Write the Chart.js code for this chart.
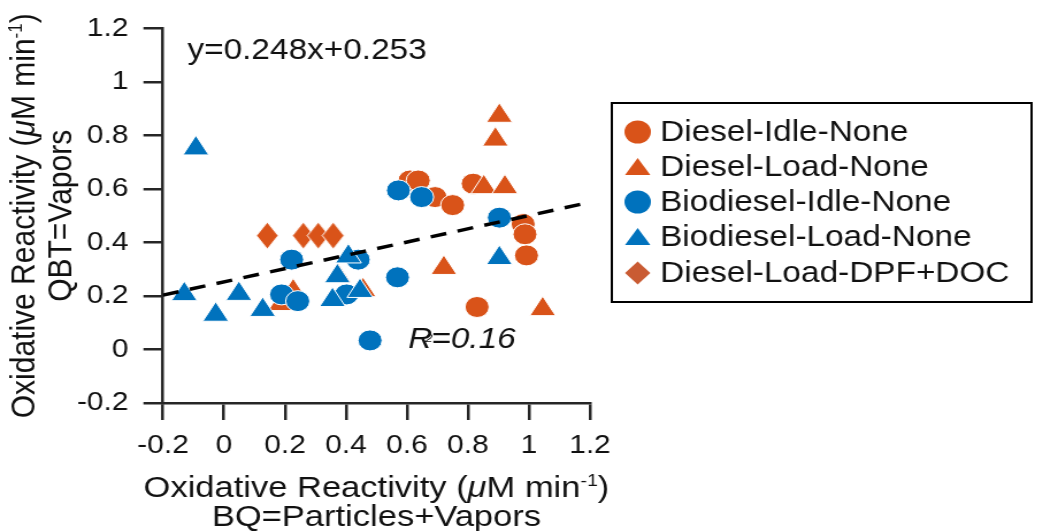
<!DOCTYPE html>
<html>
<head>
<meta charset="utf-8">
<script src="https://cdn.jsdelivr.net/npm/chart.js@4.4.1/dist/chart.umd.min.js"></script>
<style>
  html, body { margin: 0; padding: 0; background: #fff; overflow: hidden; }
  /* figure is drawn narrow and widened, like the exported original */
  #chart { display: block; transform: scaleX(1.15); transform-origin: 0 0; }
</style>
</head>
<body>
<canvas id="chart" width="908" height="531"></canvas>
<script>
// series
const seriesNames = ['Diesel-Idle-None', 'Diesel-Load-None', 'Biodiesel-Idle-None', 'Biodiesel-Load-None', 'Diesel-Load-DPF+DOC'];

const dieselIdleX = [0.610, 0.637, 0.692, 0.750, 0.817, 0.981, 0.987, 0.992, 0.830];
const dieselIdleY = [0.632, 0.632, 0.570, 0.540, 0.620, 0.469, 0.431, 0.352, 0.159];

const dieselLoadX = [0.187, 0.227, 0.374, 0.456, 0.721, 0.852, 0.921, 0.890, 0.903, 1.045];
const dieselLoadY = [0.170, 0.218, 0.276, 0.222, 0.305, 0.607, 0.607, 0.785, 0.874, 0.151];

const bioIdleX = [0.189, 0.242, 0.222, 0.402, 0.440, 0.572, 0.648, 0.569, 0.903, 0.479];
const bioIdleY = [0.206, 0.181, 0.336, 0.206, 0.336, 0.595, 0.570, 0.270, 0.493, 0.034];

const bioLoadX = [-0.092, -0.130, -0.027, 0.049, 0.127, 0.408, 0.372, 0.356, 0.446, 0.903];
const bioLoadY = [0.752, 0.207, 0.130, 0.208, 0.148, 0.348, 0.274, 0.185, 0.219, 0.342];

const dpfX = [0.142, 0.260, 0.309, 0.358];
const dpfY = [0.426, 0.426, 0.426, 0.426];

// linear fit
const fitSlope = 0.248;
const fitIntercept = 0.253;
const fitX = [-0.2, 1.2];
const fitR2 = '0.16';

// axes
const tickValues = [-0.2, 0, 0.2, 0.4, 0.6, 0.8, 1, 1.2];
const tickLabels = ['-0.2', '0', '0.2', '0.4', '0.6', '0.8', '1', '1.2'];

const ORANGE = '#D95319';
const BLUE = '#0072BD';
const AXIS = '#262626';
const TEXT = '#111';
const FONT = "'Liberation Sans', Arial, Helvetica, sans-serif";

function pts(xs, ys) {
  return xs.map((x, i) => ({ x: x, y: ys[i] }));
}

// diamond marker, a bit taller than wide
function diamondMarker(w, h, fill) {
  const c = document.createElement('canvas');
  c.width = w + 2;
  c.height = h + 2;
  const g = c.getContext('2d');
  g.beginPath();
  g.moveTo(c.width / 2, 1);
  g.lineTo(c.width - 1, c.height / 2);
  g.lineTo(c.width / 2, c.height - 1);
  g.lineTo(1, c.height / 2);
  g.closePath();
  g.fillStyle = fill;
  g.fill();
  g.strokeStyle = '#fff';
  g.lineWidth = 1;
  g.stroke();
  return c;
}

// text made of pieces with their own font and offset
function drawRich(ctx, parts, x, y, align) {
  let w = 0;
  parts.forEach(p => {
    ctx.font = p.font;
    p.w = ctx.measureText(p.t).width + (p.kern || 0);
    w += p.w;
  });
  let cx = align === 'center' ? x - w / 2 : x;
  ctx.textAlign = 'left';
  parts.forEach(p => {
    ctx.font = p.font;
    ctx.fillText(p.t, cx, y + (p.dy || 0));
    cx += p.w;
  });
}

function unitParts(size) {
  return [
    { t: 'Oxidative Reactivity (', font: `${size}px ${FONT}` },
    { t: 'μ', font: `italic ${size}px ${FONT}` },
    { t: 'M min', font: `${size}px ${FONT}` },
    { t: '-1', font: `${Math.round(size * 0.58)}px ${FONT}`, dy: -Math.round(size * 0.36) },
    { t: ')', font: `${size}px ${FONT}` }
  ];
}

const annotations = {
  id: 'annotations',
  afterDraw(chart) {
    const ctx = chart.ctx;
    const area = chart.chartArea;
    ctx.save();
    ctx.fillStyle = TEXT;
    ctx.textBaseline = 'alphabetic';

    // x axis title
    const cx = (area.left + area.right) / 2;
    drawRich(ctx, unitParts(30), cx, 497, 'center');
    ctx.font = `30px ${FONT}`;
    ctx.textAlign = 'center';
    ctx.fillText('BQ=Particles+Vapors', cx, 526);

    // y axis title, two rotated lines
    const cy = (area.top + area.bottom) / 2;
    ctx.save();
    ctx.translate(30, cy);
    ctx.rotate(-Math.PI / 2);
    drawRich(ctx, unitParts(30), 0, 0, 'center');
    ctx.restore();
    ctx.save();
    ctx.translate(62, cy);
    ctx.rotate(-Math.PI / 2);
    ctx.font = `30px ${FONT}`;
    ctx.textAlign = 'center';
    ctx.fillText('QBT=Vapors', 0, 0);
    ctx.restore();

    // fit equation and R2
    ctx.textAlign = 'left';
    ctx.font = `29px ${FONT}`;
    ctx.fillText(`y=${fitSlope}x+${fitIntercept}`, 163, 59);
    drawRich(ctx, [
      { t: 'R', font: `italic 29px ${FONT}`, kern: -6 },
      { t: '2', font: `italic 11px ${FONT}`, dy: -6, kern: -1 },
      { t: '=' + fitR2, font: `italic 29px ${FONT}` }
    ], 355, 348, 'left');

    // legend
    const box = { l: 532, t: 103, r: 897, b: 302 };
    ctx.strokeStyle = '#000';
    ctx.lineWidth = 2;
    ctx.strokeRect(box.l, box.t, box.r - box.l, box.b - box.t);
    const rows = [132, 167, 202, 237, 273];
    const mx = 554.5;
    const marks = [
      { shape: 'circle', color: ORANGE },
      { shape: 'triangle', color: ORANGE },
      { shape: 'circle', color: BLUE },
      { shape: 'triangle', color: BLUE },
      { shape: 'diamond', color: '#C95B33' }
    ];
    marks.forEach((m, i) => {
      const y = rows[i];
      ctx.fillStyle = m.color;
      ctx.beginPath();
      if (m.shape === 'circle') {
        ctx.arc(mx, y, 11.5, 0, Math.PI * 2);
      } else if (m.shape === 'triangle') {
        ctx.moveTo(mx, y - 9);
        ctx.lineTo(mx + 11, y + 8);
        ctx.lineTo(mx - 11, y + 8);
        ctx.closePath();
      } else {
        ctx.moveTo(mx, y - 11.5);
        ctx.lineTo(mx + 11, y);
        ctx.lineTo(mx, y + 11.5);
        ctx.lineTo(mx - 11, y);
        ctx.closePath();
      }
      ctx.fill();
      ctx.fillStyle = TEXT;
      ctx.font = `29px ${FONT}`;
      ctx.textBaseline = 'middle';
      ctx.fillText(seriesNames[i], 574, y + 1);
    });
    ctx.restore();
  }
};

function axisOptions(extra) {
  return Object.assign({
    type: 'linear',
    min: -0.2,
    max: 1.2,
    afterBuildTicks: scale => { scale.ticks = tickValues.map(v => ({ value: v })); },
    grid: {
      drawOnChartArea: false,
      drawTicks: true,
      tickLength: 17,
      color: AXIS,
      lineWidth: 2.5,
      tickColor: AXIS,
      tickWidth: 2.5
    },
    border: { display: true, color: AXIS, width: 2.5 },
    ticks: {
      color: TEXT,
      font: { family: FONT, size: 26 },
      callback: (v, i) => tickLabels[i]
    }
  }, extra);
}

const xScale = axisOptions({ afterFit: s => { s.height = 128; } });
xScale.ticks.padding = 10;
xScale.ticks.maxRotation = 0;
const yScale = axisOptions({ afterFit: s => { s.width = 141.7; } });
yScale.ticks.padding = 13;

const fitLine = fitX.map(x => ({ x: x, y: fitSlope * x + fitIntercept }));

new Chart(document.getElementById('chart'), {
  type: 'scatter',
  data: {
    datasets: [
      {
        label: 'fit',
        data: fitLine,
        showLine: true,
        borderColor: '#000',
        borderWidth: 3.5,
        borderDash: [14, 10],
        pointRadius: 0,
        order: 0
      },
      {
        label: seriesNames[0],
        data: pts(dieselIdleX, dieselIdleY),
        pointStyle: 'circle',
        pointRadius: 10.5,
        backgroundColor: ORANGE,
        borderColor: '#fff',
        borderWidth: 1,
        order: 5
      },
      {
        label: seriesNames[1],
        data: pts(dieselLoadX, dieselLoadY),
        pointStyle: 'triangle',
        pointRadius: 13,
        backgroundColor: ORANGE,
        borderColor: '#fff',
        borderWidth: 1,
        order: 4
      },
      {
        label: seriesNames[2],
        data: pts(bioIdleX, bioIdleY),
        pointStyle: 'circle',
        pointRadius: 10.5,
        backgroundColor: BLUE,
        borderColor: '#fff',
        borderWidth: 1,
        order: 3
      },
      {
        label: seriesNames[3],
        data: pts(bioLoadX, bioLoadY),
        pointStyle: 'triangle',
        pointRadius: 13,
        backgroundColor: BLUE,
        borderColor: '#fff',
        borderWidth: 1,
        order: 2
      },
      {
        label: seriesNames[4],
        data: pts(dpfX, dpfY),
        pointStyle: diamondMarker(19, 27, ORANGE),
        pointRadius: 13,
        backgroundColor: ORANGE,
        borderWidth: 0,
        order: 1
      }
    ]
  },
  options: {
    responsive: false,
    animation: false,
    devicePixelRatio: 1,
    layout: { padding: { left: 0, top: 25, right: 908 - 513, bottom: 0 } },
    scales: { x: xScale, y: yScale },
    plugins: {
      legend: { display: false },
      tooltip: { enabled: false }
    }
  },
  plugins: [annotations]
});
</script>
</body>
</html>
